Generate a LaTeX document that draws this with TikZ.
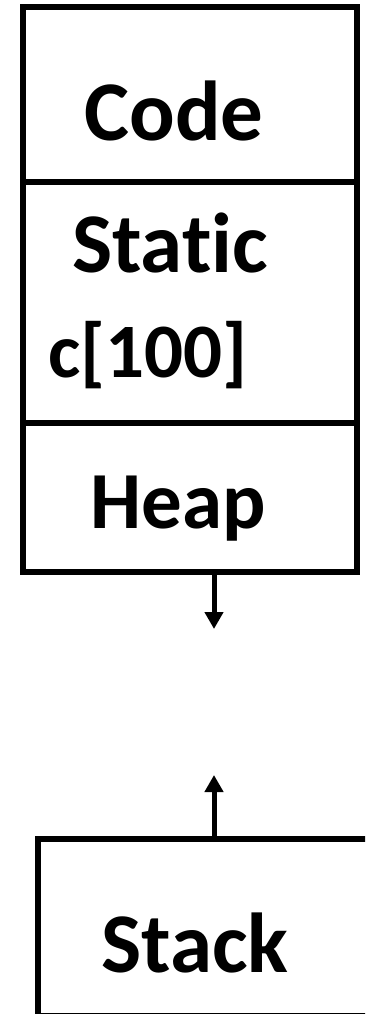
\documentclass[tikz,border=0pt]{standalone}
\usepackage{fontspec}
\setmainfont{Carlito}[Ligatures=CommonOff]
\usetikzlibrary{arrows.meta}
\begin{document}
\begin{tikzpicture}[x=1pt,y=1pt,
  box/.style={draw=black, line width=5.5pt, inner sep=0pt, minimum width=#1},
  lbl/.style={anchor=base, inner sep=0pt, font=\bfseries\fontsize{#1}{#1}\selectfont},
  arr/.style={line width=5pt, -{Triangle[width=18pt,length=17pt]}}]
\useasboundingbox (0,0) rectangle (365,-1014);
\clip (0,0) rectangle (365,-1014);
% memory segments
\node[box=334pt, minimum height=175pt] (codebox) at (190,-94.5) {};
\node[box=334pt, minimum height=241pt] (staticbox) at (190,-302.5) {};
\node[box=334pt, minimum height=149pt] (heapbox) at (190,-497.5) {};
\node[box=342pt, minimum height=177pt] (stackbox) at (209,-927.5) {};
% labels
\node[lbl=85] (code) at (174,-140) {Code};
\node[lbl=85] (static) at (170,-272) {Static};
\node[lbl=77] (arr100) at (148,-377) {c[100]};
\node[lbl=81] (heap) at (178,-528) {Heap};
\node[lbl=85] (stack) at (195,-972) {Stack};
% arrows
\coordinate (htip) at (214,-629);
\coordinate (stip) at (214,-775);
\draw[arr] (heapbox.south -| htip) -- (htip);
\draw[arr] (stackbox.north -| stip) -- (stip);
\end{tikzpicture}
\end{document}
